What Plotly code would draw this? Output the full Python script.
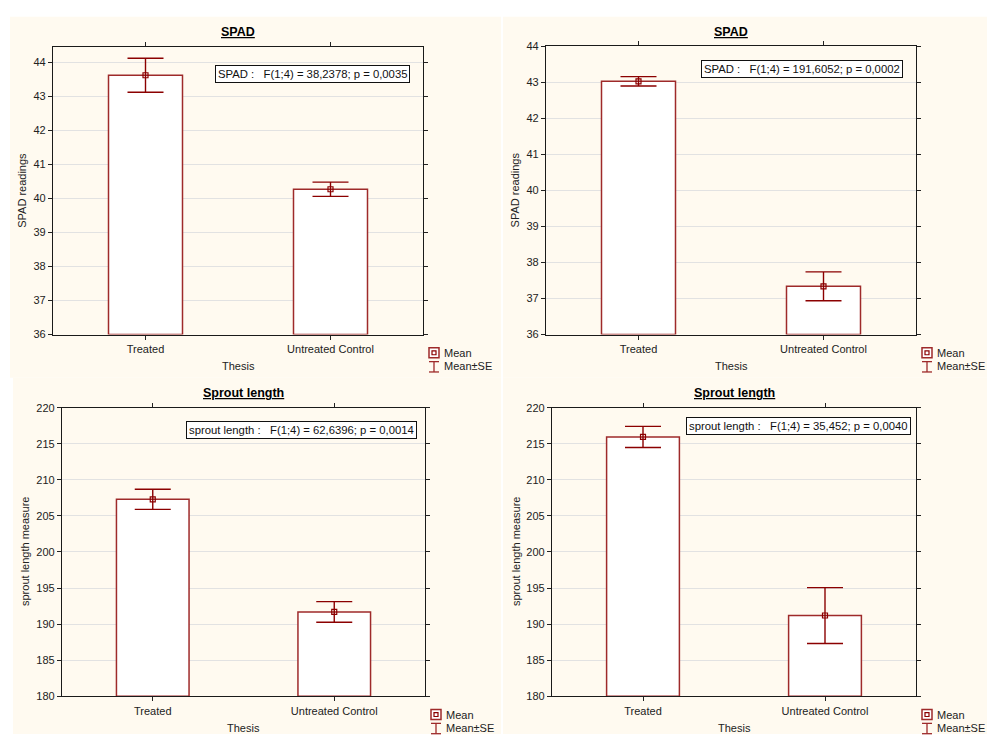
import plotly.graph_objects as go

W, H = 987, 740

# ---------------- data ----------------
categories = ["Treated", "Untreated Control"]

spad1_mean = [43.62, 40.27]
spad1_se = [0.50, 0.21]
spad2_mean = [43.03, 37.34]
spad2_se = [0.13, 0.40]
sprout1_mean = [207.3, 191.7]
sprout1_se = [1.39, 1.43]
sprout2_mean = [215.95, 191.2]
sprout2_se = [1.46, 3.87]

titles = ["SPAD", "SPAD", "Sprout length", "Sprout length"]
ytitles = ["SPAD readings", "SPAD readings", "sprout length measure", "sprout length measure"]
stats = [
    "SPAD :   F(1;4) = 38,2378; p = 0,0035",
    "SPAD :   F(1;4) = 191,6052; p = 0,0002",
    "sprout length :   F(1;4) = 62,6396; p = 0,0014",
    "sprout length :   F(1;4) = 35,452; p = 0,0040",
]
yranges = [[36, 44.45], [36, 44], [180, 220], [180, 220]]
ydticks = [1, 1, 5, 5]
xtitle = "Thesis"
legend_labels = ["Mean", "Mean±SE"]

means = [spad1_mean, spad2_mean, sprout1_mean, sprout2_mean]
ses = [spad1_se, spad2_se, sprout1_se, sprout2_se]

# ---------------- layout geometry (pixels) ----------------
panels = [
    (53, 423, 41.7, 334),
    (546, 916, 41, 334),
    (62, 425, 408.3, 701.7),
    (552, 916, 408.3, 701.7),
]
ytitle_off = [31, 31, 37, 36]
stat_boxes = [(312, 69), (802, 64), (301.5, 431), (798.5, 427)]


def px(x):
    return x / W


def py(y):
    return 1 - y / H


DARK = "#8B0000"
BAR_LINE = "#9E2A2A"
FONT = "Liberation Sans, Arial, sans-serif"
BEIGE = "#FFFAF0"

fig = go.Figure()
shapes = []
annotations = []

for (x0, x1, y0, y1) in [(10, 501, 11, 378), (503, 987, 11, 378),
                         (13, 501, 378, 740), (503, 987, 378, 740)]:
    shapes.append(dict(type="rect", xref="paper", yref="paper",
                       x0=px(x0), x1=px(x1), y0=py(y1), y1=py(y0),
                       fillcolor=BEIGE, line=dict(width=0), layer="below"))

for i in range(4):
    xa = "x" if i == 0 else f"x{i+1}"
    ya = "y" if i == 0 else f"y{i+1}"
    l, r, t, b = panels[i]

    fig.add_trace(go.Bar(
        x=categories, y=[m - yranges[i][0] for m in means[i]], base=yranges[i][0],
        width=0.4, marker=dict(color="white", line=dict(color=BAR_LINE, width=1.5)),
        xaxis=xa, yaxis=ya, showlegend=False, hoverinfo="skip"))
    fig.add_trace(go.Scatter(
        x=categories, y=means[i], mode="markers",
        marker=dict(symbol="square-open", size=5, color=DARK, line=dict(width=1.2, color=DARK)),
        error_y=dict(type="data", array=ses[i], visible=True, color=DARK, thickness=1.4, width=18),
        xaxis=xa, yaxis=ya, showlegend=False))

    xkey = "xaxis" if i == 0 else f"xaxis{i+1}"
    ykey = "yaxis" if i == 0 else f"yaxis{i+1}"
    fig.layout[xkey] = dict(
        domain=[px(l), px(r)], anchor=ya, type="category", range=[-0.5, 1.5],
        showline=True, linecolor="#1a1a1a", linewidth=1.3, mirror="ticks",
        ticks="outside", ticklen=4, tickcolor="#222", showgrid=False,
        tickfont=dict(family=FONT, size=11, color="#222"), fixedrange=True)
    fig.layout[ykey] = dict(
        domain=[py(b), py(t)], anchor=xa, range=yranges[i], dtick=ydticks[i],
        tick0=yranges[i][0],
        showline=True, linecolor="#1a1a1a", linewidth=1.3, mirror="ticks",
        ticks="outside", ticklen=4, tickcolor="#222",
        showgrid=True, gridcolor="#E2E2E2", gridwidth=1, zeroline=False,
        tickfont=dict(family=FONT, size=11, color="#222"), fixedrange=True)

    cx = (l + r) / 2
    annotations.append(dict(text=f"<b><u>{titles[i]}</u></b>", xref="paper", yref="paper",
                            x=px(cx), y=py(t - 15), showarrow=False,
                            xanchor="center", yanchor="middle",
                            font=dict(family=FONT, size=12.5, color="black")))
    annotations.append(dict(text=xtitle, xref="paper", yref="paper",
                            x=px(cx), y=py(b + 32), showarrow=False,
                            xanchor="center", yanchor="middle",
                            font=dict(family=FONT, size=11, color="#222")))
    annotations.append(dict(text=ytitles[i], xref="paper", yref="paper",
                            x=px(l - ytitle_off[i]), y=py((t + b) / 2), showarrow=False,
                            textangle=-90, xanchor="center", yanchor="middle",
                            font=dict(family=FONT, size=11, color="#222")))
    sx, sy = stat_boxes[i]
    annotations.append(dict(text=stats[i].replace(" ", "\u00a0"), xref="paper", yref="paper",
                            x=px(sx), y=py(sy), showarrow=False,
                            xanchor="center", yanchor="middle",
                            bgcolor="white", bordercolor="#111", borderwidth=1, borderpad=2,
                            font=dict(family=FONT, size=11.3, color="#111")))
    lx0 = r + 6
    shapes.append(dict(type="rect", xref="paper", yref="paper",
                       x0=px(lx0), x1=px(lx0 + 10), y0=py(b + 23.5), y1=py(b + 13.5),
                       line=dict(color=BAR_LINE, width=1.5), fillcolor="white"))
    shapes.append(dict(type="rect", xref="paper", yref="paper",
                       x0=px(lx0 + 3), x1=px(lx0 + 7), y0=py(b + 20.5), y1=py(b + 16.5),
                       line=dict(color=DARK, width=1.2), fillcolor="white"))
    for (xa0, ya0, xa1, ya1) in [(lx0, b + 27.5, lx0 + 10, b + 27.5),
                                 (lx0 + 5, b + 27.5, lx0 + 5, b + 38),
                                 (lx0, b + 38, lx0 + 10, b + 38)]:
        shapes.append(dict(type="line", xref="paper", yref="paper",
                           x0=px(xa0), x1=px(xa1), y0=py(ya0), y1=py(ya1),
                           line=dict(color=BAR_LINE, width=1.3)))
    annotations.append(dict(text=legend_labels[0], xref="paper", yref="paper",
                            x=px(lx0 + 13), y=py(b + 18.5), showarrow=False,
                            xanchor="left", yanchor="middle",
                            font=dict(family=FONT, size=11, color="#222")))
    annotations.append(dict(text=legend_labels[1], xref="paper", yref="paper",
                            x=px(lx0 + 13), y=py(b + 32), showarrow=False,
                            xanchor="left", yanchor="middle",
                            font=dict(family=FONT, size=11, color="#222")))

fig.update_layout(
    width=W, height=H, margin=dict(l=0, r=0, t=0, b=0),
    paper_bgcolor="white", plot_bgcolor="white",
    shapes=shapes, annotations=annotations, showlegend=False,
    font=dict(family=FONT),
)

fig.write_html("out.html", config={"displayModeBar": False})
